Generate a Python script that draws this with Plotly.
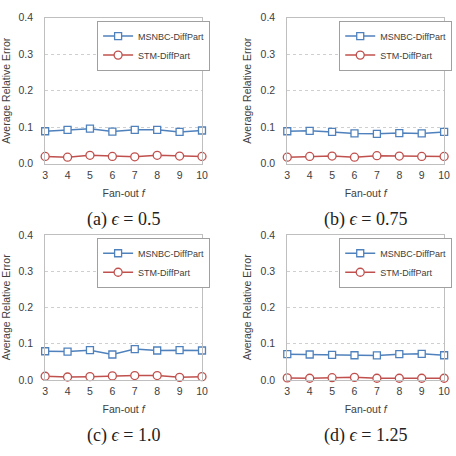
import plotly.graph_objects as go

fanout = [3, 4, 5, 6, 7, 8, 9, 10]
y_ticks = [0.0, 0.1, 0.2, 0.3, 0.4]

msnbc_a = [0.089, 0.093, 0.096, 0.088, 0.093, 0.093, 0.087, 0.091]
stm_a = [0.020, 0.018, 0.023, 0.020, 0.019, 0.023, 0.021, 0.020]
msnbc_b = [0.089, 0.090, 0.087, 0.083, 0.082, 0.084, 0.083, 0.087]
stm_b = [0.018, 0.020, 0.021, 0.018, 0.022, 0.021, 0.020, 0.020]
msnbc_c = [0.079, 0.078, 0.082, 0.070, 0.085, 0.081, 0.082, 0.081]
stm_c = [0.010, 0.008, 0.009, 0.011, 0.012, 0.012, 0.007, 0.009]
msnbc_d = [0.071, 0.070, 0.069, 0.068, 0.0675, 0.071, 0.072, 0.068]
stm_d = [0.0055, 0.0045, 0.006, 0.007, 0.0045, 0.0045, 0.0045, 0.0045]

captions = ["(a) <i>ϵ</i> = 0.5", "(b) <i>ϵ</i> = 0.75", "(c) <i>ϵ</i> = 1.0", "(d) <i>ϵ</i> = 1.25"]
panels = [(msnbc_a, stm_a), (msnbc_b, stm_b), (msnbc_c, stm_c), (msnbc_d, stm_d)]

W = H = 456
BLUE = "#4F81BD"
RED = "#C0504D"
FONT = "Liberation Sans, Arial"
TXT = "#404040"

# pixel boxes of the plot areas: (left, right, top, bottom)
boxes = [(43, 203, 12, 162), (290, 450, 12, 162), (43, 203, 235, 384), (290, 450, 235, 384)]

fig = go.Figure()
layout = dict(width=W, height=H, margin=dict(l=0, r=0, t=0, b=0),
              paper_bgcolor="white", plot_bgcolor="white", showlegend=True)
annotations = []

for i, ((ms, st), (l, r, t, b)) in enumerate(zip(panels, boxes)):
    n = i + 1
    xa = "x" if n == 1 else f"x{n}"
    ya = "y" if n == 1 else f"y{n}"
    lg = "legend" if n == 1 else f"legend{n}"
    fig.add_trace(go.Scatter(x=fanout, y=ms, mode="lines+markers", name="MSNBC-DiffPart",
                             line=dict(color=BLUE, width=1.5),
                             marker=dict(symbol="square", size=7, color="white",
                                         line=dict(color=BLUE, width=1.3)),
                             xaxis=xa, yaxis=ya, legend=lg, cliponaxis=False))
    fig.add_trace(go.Scatter(x=fanout, y=st, mode="lines+markers", name="STM-DiffPart",
                             line=dict(color=RED, width=1.5),
                             marker=dict(symbol="circle", size=8, color="white",
                                         line=dict(color=RED, width=1.3)),
                             xaxis=xa, yaxis=ya, legend=lg, cliponaxis=False))
    xkey = "xaxis" if n == 1 else f"xaxis{n}"
    ykey = "yaxis" if n == 1 else f"yaxis{n}"
    layout[xkey] = dict(domain=[l / W, r / W], anchor=ya, range=[3, 10],
                        tickvals=fanout, showgrid=False, zeroline=False,
                        showline=True, linecolor="#BFBFBF", mirror=True, ticks="",
                        ticklabelstandoff=2,
                        tickfont=dict(family=FONT, size=10.5, color=TXT),
                        title=dict(text="Fan-out <i>f</i>", standoff=9,
                                   font=dict(family=FONT, size=10.5, color=TXT)))
    layout[ykey] = dict(domain=[1 - b / H, 1 - t / H], anchor=xa, range=[0, 0.4],
                        tickvals=y_ticks, tickformat=".1f", showgrid=True,
                        gridcolor="#CFCFCF", griddash="dot", gridwidth=1,
                        zeroline=False, showline=True, linecolor="#BFBFBF", mirror=True,
                        ticks="", ticklabelstandoff=9,
                        tickfont=dict(family=FONT, size=10.5, color=TXT),
                        title=dict(text="Average Relative Error", standoff=6,
                                   font=dict(family=FONT, size=10.5, color=TXT)))
    layout[lg] = dict(x=(l + 53) / W, y=1 - (t + 3) / H, xanchor="left", yanchor="top",
                      bgcolor="white", bordercolor="#A0A0A0", borderwidth=1,
                      font=dict(family=FONT, size=9, color=TXT),
                      itemwidth=30, tracegroupgap=0)
    annotations.append(dict(text=captions[i], x=(l + r) / 2 / W, y=1 - (b + 57) / H,
                            xref="paper", yref="paper", showarrow=False,
                            xanchor="center", yanchor="middle",
                            font=dict(family="Liberation Serif", size=18,
                                      color="#222222")))

layout["annotations"] = annotations
fig.update_layout(**layout)
fig.write_html("out.html")
